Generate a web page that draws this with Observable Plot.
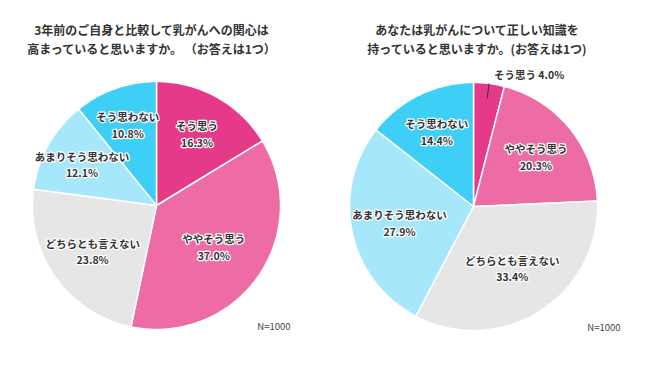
<!DOCTYPE html>
<html><head><meta charset="utf-8">
<script src="https://cdn.jsdelivr.net/npm/d3@7"></script>
<script src="https://cdn.jsdelivr.net/npm/@observablehq/plot@0.6"></script>
<style>
body{margin:0;background:#fff;}
#wrap{position:relative;width:650px;height:376px;overflow:hidden;background:#fff;}
#wrap > svg{position:absolute;top:0;}
</style></head><body><div id="wrap"></div>
<script>
const categories = ["そう思う","ややそう思う","どちらとも言えない","あまりそう思わない","そう思わない"];
const colors = ["#e5398a","#ee6ca6","#e6e6e6","#a6e7fb","#3dcff5"];
const values1 = [16.3, 37.0, 23.8, 12.1, 10.8];
const values2 = [4.0, 20.3, 33.4, 27.9, 14.4];
const title1 = ["3年前のご自身と比較して乳がんへの関心は","高まっていると思いますか。 （お答えは1つ）"];
const title2 = ["あなたは乳がんについて正しい知識を","持っていると思いますか。(お答えは1つ)"];
const sampleNote = "N=1000";

function slices(values){
  const total = d3.sum(values);
  let acc = 0;
  return values.map((v,i)=>{
    const a0 = acc/total*2*Math.PI; acc += v; const a1 = acc/total*2*Math.PI;
    const n = Math.max(2, Math.ceil((a1-a0)/(Math.PI/180)));
    const pts = [{x:0,y:0}];
    for(let k=0;k<=n;k++){const a=a0+(a1-a0)*k/n; pts.push({x:Math.sin(a), y:Math.cos(a)});}
    pts.push({x:0,y:0});
    return {category:categories[i], value:v, color:colors[i], share:v/total, mid:(a0+a1)/2, pts};
  });
}
const lr = d => 0.75 - 0.5*d.share;

function pie(values, title, m, titleDy, titleDx, noteDx){
  const S = slices(values);
  const inside = S.filter(d=>d.share>=0.05), outside = S.filter(d=>d.share<0.05);
  return Plot.plot({
    width:325, height:376,
    marginLeft:m[0], marginRight:m[1], marginTop:m[2], marginBottom:m[3],
    x:{domain:[-1,1], axis:null}, y:{domain:[-1,1], axis:null},
    style:{fontFamily:"'Noto Sans CJK JP', 'Noto Sans', sans-serif", background:"transparent", overflow:"visible"},
    marks:[
      ...S.map(s=>Plot.line(s.pts,{x:"x",y:"y",fill:s.color,stroke:"#fff",strokeWidth:1.5,strokeLinejoin:"round"})),
      Plot.text(inside,{x:d=>lr(d)*Math.sin(d.mid), y:d=>lr(d)*Math.cos(d.mid),
        text:d=>`${d.category}\n${d.value.toFixed(1)}%`, fontSize:10.5, fontWeight:"bold",
        fill:"#333", stroke:"#fff", strokeWidth:2.5, lineHeight:1.6}),
      Plot.link(outside,{x1:d=>0.88*Math.sin(d.mid), y1:d=>0.88*Math.cos(d.mid),
        x2:d=>1.0*Math.sin(d.mid), y2:d=>1.0*Math.cos(d.mid), stroke:"#333", strokeWidth:1}),
      Plot.text(outside,{x:d=>1.06*Math.sin(d.mid), y:d=>1.06*Math.cos(d.mid),
        text:d=>`${d.category} ${d.value.toFixed(1)}%`, textAnchor:"start", dx:4,
        fontSize:10.5, fontWeight:"bold", fill:"#333"}),
      Plot.text([title.join("\n")],{text:d=>d, frameAnchor:"top", lineAnchor:"middle", dy:titleDy, dx:titleDx,
        fontSize:12, fontWeight:"bold", lineHeight:1.58, fill:"#333"}),
      Plot.text([sampleNote],{text:d=>d, frameAnchor:"bottom-right", lineAnchor:"middle", textAnchor:"end",
        dx:noteDx, dy:-3, fontSize:9.5, fill:"#444"})
    ]
  });
}
const wrap = document.getElementById("wrap");
const c1 = pie(values1, title1, [32,45,81,47], -43.5, -5, 10);
c1.style.left = "0px";
const c2 = pie(values2, title2, [24,53,82,46], -44.5, 3.5, 23);
c2.style.left = "325px";
wrap.append(c1, c2);
</script></body></html>
